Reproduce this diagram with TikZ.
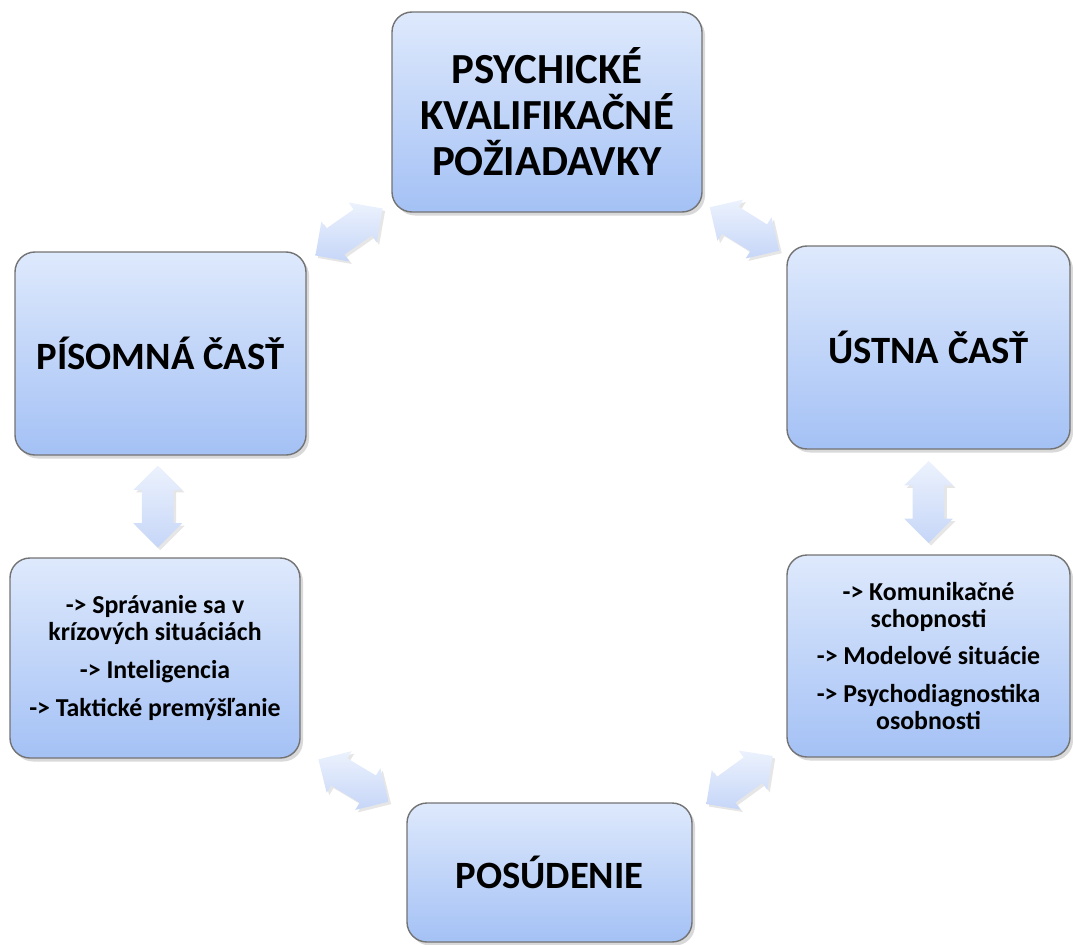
\documentclass[tikz,border=0pt]{standalone}
\usepackage{fontspec}
\setmainfont{Carlito}
\usetikzlibrary{shapes.arrows,shadows,calc}
\definecolor{boxtop}{RGB}{222,233,252}
\definecolor{boxbot}{RGB}{164,193,245}
\definecolor{arrtop}{RGB}{236,242,253}
\definecolor{arrbot}{RGB}{198,214,248}

\begin{document}
\begin{tikzpicture}[
	box/.style={draw=black!55, line width=0.8pt, rounded corners=0.4cm, top color=boxtop, bottom color=boxbot, minimum width=5.8cm, minimum height=4cm, align=center, drop shadow={shadow xshift=0.06cm, shadow yshift=-0.07cm, opacity=0.3}},
	big/.style={font=\fontsize{22}{26}\selectfont\bfseries},
	small/.style={font=\fontsize{14.7}{15.4}\selectfont\bfseries},
	dbl/.style={double arrow, double arrow head extend=0.17cm, inner xsep=0pt, inner ysep=0.31cm, minimum height=1.64cm, top color=arrtop, bottom color=arrbot, draw=none, drop shadow={shadow xshift=0.05cm, shadow yshift=-0.05cm, opacity=0.2}}]
	\useasboundingbox (0,0) rectangle (21.46,-18.88);
	\clip (0,0) rectangle (21.46,-18.88);
	\node[box, big, font=\fontsize{24.4}{26.2}\selectfont\bfseries, minimum width=6.2cm] (P) at (10.94,-2.24) {PSYCHICKÉ\\KVALIFIKAČNÉ\\POŽIADAVKY};
	\node[box, big, minimum width=5.82cm, minimum height=4.06cm] (W) at (3.21,-7.07) {PÍSOMNÁ ČASŤ};
	\node[box, big, minimum width=5.66cm, minimum height=4.06cm] (O) at (18.57,-6.95) {ÚSTNA ČASŤ};
	\node[box, small] (W1) at (3.10,-13.16) {-> Správanie sa v\\krízových situáciách\\[6pt]-> Inteligencia\\[6pt]-> Taktické premýšľanie};
	\node[box, small, minimum width=5.66cm, minimum height=4.04cm] (O1) at (18.57,-13.12) {-> Komunikačné\\schopnosti\\[6pt]-> Modelové situácie\\[6pt]-> Psychodiagnostika\\osobnosti};
	\node[box, big, minimum width=5.7cm, minimum height=2.78cm] (R) at (10.99,-17.45) {POSÚDENIE};
	\node[dbl, rotate=35] (A1) at ($(P.south west)!0.5!(W.north east)$) {};
	\node[dbl, rotate=-32] (A2) at ($(P.south east)!0.5!(O.north west)$) {};
	\node[dbl, rotate=90] (A3) at ($(W.south)!0.5!(W1.north)$) {};
	\node[dbl, rotate=90] (A4) at ($(O.south)!0.5!(O1.north)$) {};
	\node[dbl, rotate=-31] (A5) at ($(W1.south east)!0.5!(R.north west)$) {};
	\node[dbl, rotate=36] (A6) at ($(R.north east)!0.5!(O1.south west)$) {};
\end{tikzpicture}
\end{document}
